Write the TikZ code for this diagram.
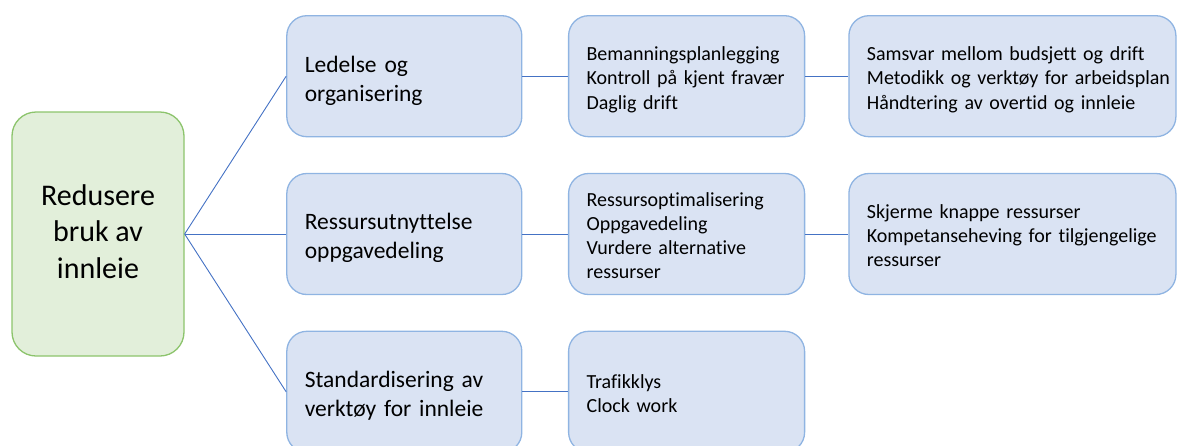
\documentclass[tikz,border=0pt]{standalone}
\usepackage{fontspec}
\setmainfont{Carlito}[Ligatures=NoCommon]
\usetikzlibrary{positioning}
\definecolor{rootfill}{RGB}{226,239,218}
\definecolor{rootline}{RGB}{140,196,108}
\definecolor{boxfill}{RGB}{218,227,243}
\definecolor{boxline}{RGB}{143,180,226}
\definecolor{linkline}{RGB}{68,114,196}
\newcommand\linestrut{\rule[-0.14\baselineskip]{0pt}{\baselineskip}}

\begin{document}
\begin{tikzpicture}[
    x=1pt, y=1pt,
    root/.style={draw=rootline, fill=rootfill, line width=1.3pt, rounded corners=24pt, minimum width=172pt, minimum height=244pt, align=center, font=\fontsize{30}{36.5}\selectfont, execute at begin node=\linestrut, execute at end node=\linestrut},
    topic/.style={draw=boxline, fill=boxfill, line width=1.3pt, rounded corners=20pt, minimum width=235pt, minimum height=121pt, text width=199pt, inner xsep=18pt, align=left, font=\fontsize{23.5}{29}\selectfont, execute at begin node=\linestrut, execute at end node=\linestrut},
    detail/.style={topic, minimum width=236pt, text width=200pt, font=\fontsize{20}{23.8}\selectfont},
    wide/.style={detail, minimum width=327pt, text width=291pt},
    link/.style={draw=linkline, line width=0.9pt},
    node distance=35.5pt and 45.5pt
]
\useasboundingbox (0,0) rectangle (1177,-445);
\clip (0,0) rectangle (1177,-445);

% Root
\node[root] (root) at (98,-234) {Redusere\\bruk av\\innleie};

% First level
\node[topic, right=101.5pt of root] (ressurs) {Ressursutnyttelse\\oppgavedeling};
\node[topic, above=of ressurs] (ledelse) {Ledelse og\\organisering};
\node[topic, below=of ressurs] (standard) {Standardisering av\\verktøy for innleie};

% Second level
\node[detail, right=of ledelse] (bemanning) {Bemanningsplanlegging\\Kontroll på kjent fravær\\Daglig drift};
\node[detail, right=of ressurs] (optimal) {Ressursoptimalisering\\Oppgavedeling\\Vurdere alternative\\ressurser};
\node[detail, right=of standard] (trafikk) {Trafikklys\\Clock work};

% Third level
\node[wide, right=43pt of bemanning] (samsvar) {Samsvar mellom budsjett og drift\\\mbox{Metodikk og verktøy for arbeidsplan}\\Håndtering av overtid og innleie};
\node[wide, right=43pt of optimal] (skjerme) {Skjerme knappe ressurser\\Kompetanseheving for tilgjengelige\\ressurser};

% Links
\draw[link] (root.east) -- (ledelse.west);
\draw[link] (root.east) -- (ressurs.west);
\draw[link] (root.east) -- (standard.west);
\draw[link] (ledelse) -- (bemanning);
\draw[link] (ressurs) -- (optimal);
\draw[link] (standard) -- (trafikk);
\draw[link] (bemanning) -- (samsvar);
\draw[link] (optimal) -- (skjerme);

\end{tikzpicture}
\end{document}
